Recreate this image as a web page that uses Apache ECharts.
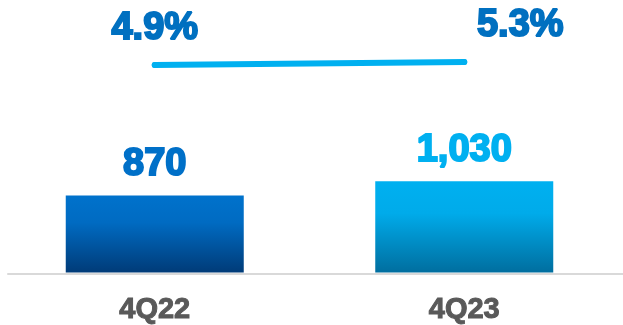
<!DOCTYPE html>
<html>
<head>
<meta charset="utf-8">
<script src="https://cdn.jsdelivr.net/npm/echarts@6/dist/echarts.min.js"></script>
<style>
  html, body { margin: 0; padding: 0; background: #ffffff; }
  #chart { width: 623px; height: 325px; }
</style>
</head>
<body>
<div id="chart"></div>
<script>
// Quarterly values and rates
const categories = ['4Q22', '4Q23'];
const volumes = [870, 1030];
const rates = [4.9, 5.3];

const FONT = '"Liberation Sans", Arial, sans-serif';

const barColors = [
  { top: '#0072CC', mid: '#006BC2', bottom: '#003B78', label: '#0070C8' },
  { top: '#00B0F0', mid: '#00ABEA', bottom: '#006E9F', label: '#00B0F0' }
];

const barData = volumes.map((v, i) => ({
  value: v,
  itemStyle: {
    color: new echarts.graphic.LinearGradient(0, 0, 0, 1, [
      { offset: 0, color: barColors[i].top },
      { offset: 0.35, color: barColors[i].mid },
      { offset: 1, color: barColors[i].bottom }
    ])
  },
  label: { color: barColors[i].label, textBorderColor: barColors[i].label }
}));

const rateLabelOffsets = [[0, 0], [56, 0]];
const lineData = rates.map((v, i) => ({
  value: v,
  label: { offset: rateLabelOffsets[i] }
}));

const chart = echarts.init(document.getElementById('chart'), null, { renderer: 'canvas' });

chart.setOption({
  animation: false,
  backgroundColor: '#ffffff',
  grid: [
    { left: -1, width: 620, top: 95.5, bottom: 51.5 },
    { left: -1, width: 620, top: 26.75, height: 75 },
    { left: 8, right: 0, top: 95.5, bottom: 51.5 }
  ],
  xAxis: [
    {
      type: 'category', gridIndex: 0, data: categories,
      axisLine: { show: false }, axisTick: { show: false },
      axisLabel: {
        margin: 23, color: '#595959', fontFamily: FONT, fontWeight: 'bold', fontSize: 29,
        textBorderColor: '#595959', textBorderWidth: 1
      }
    },
    { type: 'category', gridIndex: 1, data: categories, show: false },
    {
      type: 'value', gridIndex: 2, min: 0, max: 1,
      axisLine: { show: true, lineStyle: { color: '#D9D9D9', width: 2 } },
      axisTick: { show: false }, axisLabel: { show: false }, splitLine: { show: false }
    }
  ],
  yAxis: [
    { type: 'value', gridIndex: 0, min: 0, max: 2000, show: false, splitLine: { show: false } },
    { type: 'value', gridIndex: 1, min: 0, max: 10, show: false, splitLine: { show: false } },
    { type: 'value', gridIndex: 2, min: 0, max: 1, show: false, splitLine: { show: false } }
  ],
  series: [
    {
      type: 'bar', xAxisIndex: 0, yAxisIndex: 0, barWidth: 178, z: 3,
      data: barData,
      label: {
        show: true, position: 'top', distance: 12,
        fontFamily: FONT, fontWeight: 'bold', fontSize: 38, textBorderWidth: 2,
        formatter: p => p.value.toLocaleString('en-US')
      }
    },
    {
      type: 'line', xAxisIndex: 1, yAxisIndex: 1,
      data: lineData,
      symbol: 'circle', symbolSize: 6, showSymbol: true,
      itemStyle: { color: '#00B0F0', borderWidth: 0 },
      lineStyle: { color: '#00B0F0', width: 6, cap: 'round' },
      label: {
        show: true, position: 'top', distance: 14,
        color: '#0070C0', fontFamily: FONT, fontWeight: 'bold', fontSize: 38,
        textBorderColor: '#0070C0', textBorderWidth: 2,
        formatter: p => p.value.toFixed(1) + '%'
      }
    }
  ]
});
</script>
</body>
</html>
